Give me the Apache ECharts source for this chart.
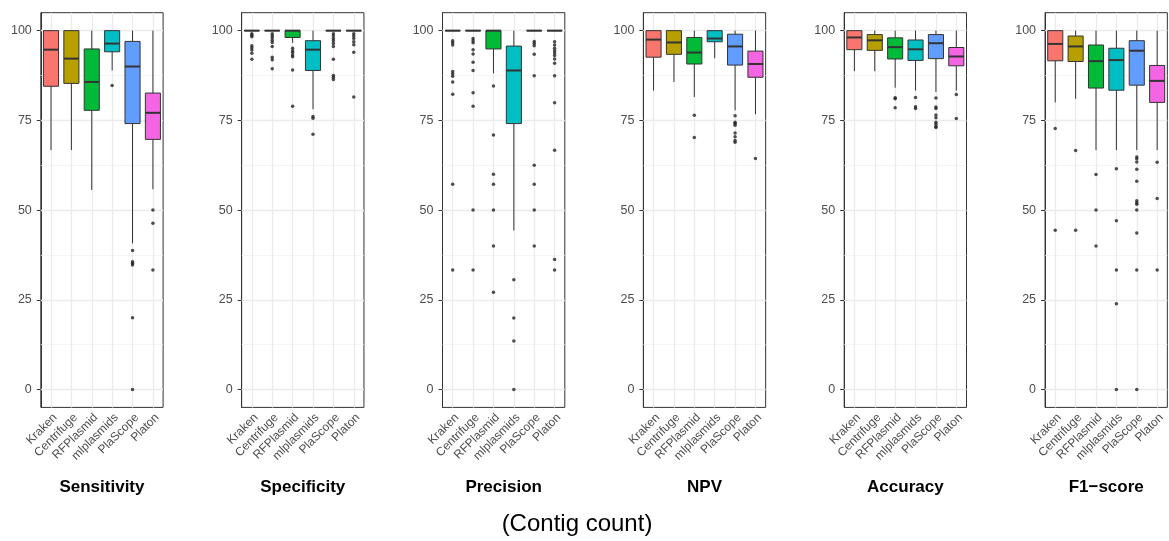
<!DOCTYPE html>
<html>
<head>
<meta charset="utf-8">
<script src="https://cdn.jsdelivr.net/npm/echarts@6/dist/echarts.min.js"></script>
<style>
html,body{margin:0;padding:0;background:#fff;}
#chart{width:1169px;height:541px;}
</style>
</head>
<body>
<div id="chart"></div>
<script>
const categories = ['Kraken', 'Centrifuge', 'RFPlasmid', 'mlplasmids', 'PlaScope', 'Platon'];
const metrics = ['Sensitivity', 'Specificity', 'Precision', 'NPV', 'Accuracy', 'F1\u2212score'];
const yTicks = [0, 25, 50, 75, 100];
const yMinorTicks = [12.5, 37.5, 62.5, 87.5];
const caption = '(Contig count)';

// boxes: [lower whisker, Q1, median, Q3, upper whisker] per category
const sensitivityBoxes = [[66.7, 84.5, 94.7, 100, 100], [66.7, 85.3, 92.2, 100, 100], [55.6, 77.8, 85.7, 94.9, 100], [88.9, 94.1, 96.4, 100, 100], [40.7, 74.1, 90.0, 97.0, 100], [55.8, 69.7, 77.1, 82.6, 100]];
const sensitivityOutliers = [[], [], [], [84.7], [38.7, 35.6, 35.2, 34.7, 20, 0], [50, 46.3, 33.3]];

const specificityBoxes = [[100, 100, 100, 100, 100], [100, 100, 100, 100, 100], [96.6, 98.1, 100, 100, 100], [78.1, 88.9, 94.7, 97.2, 100], [100, 100, 100, 100, 100], [100, 100, 100, 100, 100]];
const specificityOutliers = [[99.1, 98.7, 98.3, 95.8, 95.2, 94.6, 93.7, 92.0], [99.1, 98.6, 98.0, 97.3, 96.7, 95.6, 92.6, 91.9, 89.4], [95.1, 94.4, 93.9, 93.2, 92.7, 89.0, 78.9], [76.1, 75.6, 71.1], [99.1, 98.5, 97.8, 97.2, 96.4, 95.6, 92.0, 87.5, 87.0, 86.4], [99.1, 98.5, 97.8, 96.9, 96.1, 94.0, 81.5]];

const precisionBoxes = [[100, 100, 100, 100, 100], [100, 100, 100, 100, 100], [88.1, 94.9, 100, 100, 100], [44.3, 74.1, 88.9, 95.7, 100], [100, 100, 100, 100, 100], [100, 100, 100, 100, 100]];
const precisionOutliers = [[97.2, 96.6, 96.0, 88.6, 88.0, 87.3, 85.7, 82.3, 57.2, 33.3], [97.8, 97.2, 96.6, 94.7, 93.5, 91.2, 88.9, 82.7, 78.9, 50, 33.3], [84.6, 70.9, 60.0, 57.2, 50, 40, 27.1], [30.6, 19.9, 13.5, 0], [97.0, 96.4, 95.8, 93.4, 87.4, 62.5, 57.2, 50, 40], [96.9, 96.0, 95.1, 94.4, 93.8, 93.1, 92.1, 90.9, 87.4, 79.9, 66.7, 36.2, 33.3]];

const npvBoxes = [[83.3, 92.6, 97.5, 100, 100], [85.7, 93.4, 96.7, 100, 100], [81.5, 90.7, 93.9, 98.1, 100], [92.3, 96.9, 97.8, 100, 100], [77.8, 90.4, 95.6, 99.0, 100], [76.7, 87.0, 90.7, 94.3, 100]];
const npvOutliers = [[], [], [76.4, 70.2], [], [76.3, 74.5, 74.1, 73.6, 71.5, 70.4, 69.4, 68.9], [64.4]];

const accuracyBoxes = [[88.7, 94.7, 98.1, 100, 100], [88.7, 94.5, 97.3, 98.9, 100], [84.1, 92.1, 95.4, 98.0, 100], [83.3, 91.7, 94.8, 97.4, 100], [82.9, 92.2, 96.5, 98.9, 100], [83.3, 90.2, 92.8, 95.3, 100]];
const accuracyOutliers = [[], [], [81.3, 81.0, 78.5], [81.4, 78.8, 78.3], [81.2, 78.7, 78.3, 76.5, 75.7, 74.5, 73.9, 73.3, 73.0], [82.2, 75.5]];

const f1Boxes = [[80.0, 91.6, 96.3, 100, 100], [81.0, 91.4, 95.6, 98.5, 100], [66.7, 84.0, 91.5, 96.0, 100], [66.7, 83.4, 91.8, 95.1, 100], [66.7, 84.8, 94.4, 97.2, 100], [66.7, 80.0, 86.0, 90.3, 100]];
const f1Outliers = [[72.7, 44.4], [66.6, 44.4], [59.9, 50, 40], [61.5, 47.0, 33.3, 23.9, 0], [64.8, 64.3, 63.4, 61.4, 58.0, 52.6, 52.0, 51.6, 50, 43.6, 33.3, 0], [63.3, 53.2, 33.3]];

const panelBoxes = [sensitivityBoxes, specificityBoxes, precisionBoxes, npvBoxes, accuracyBoxes, f1Boxes];
const panelOutliers = [sensitivityOutliers, specificityOutliers, precisionOutliers, npvOutliers, accuracyOutliers, f1Outliers];

const colors = ['#F8766D', '#B79F00', '#00BA38', '#00BFC4', '#619CFF', '#F564E3'];
const FONT = '"Liberation Sans", Arial, Helvetica, sans-serif';

const chart = echarts.init(document.getElementById('chart'), null, {renderer: 'canvas'});

const PANEL_LEFT0 = 40.8, PANEL_STEP = 200.85, PANEL_W = 122.3, PANEL_TOP = 12.7, PANEL_H = 394.7;

function renderBox(params, api) {
  const idx = api.value(0);
  const lo = api.coord([idx, api.value(1)]);
  const q1 = api.coord([idx, api.value(2)]);
  const md = api.coord([idx, api.value(3)]);
  const q3 = api.coord([idx, api.value(4)]);
  const hi = api.coord([idx, api.value(5)]);
  const bw = api.size([1, 0])[0] * 0.74;
  const x = md[0];
  return {
    type: 'group',
    children: [
      {type: 'line', shape: {x1: x, y1: hi[1], x2: x, y2: q3[1]}, style: {stroke: '#333', lineWidth: 1}},
      {type: 'line', shape: {x1: x, y1: q1[1], x2: x, y2: lo[1]}, style: {stroke: '#333', lineWidth: 1}},
      {type: 'rect', shape: {x: x - bw / 2, y: q3[1], width: bw, height: q1[1] - q3[1]}, style: {fill: colors[idx], stroke: '#333', lineWidth: 1}},
      {type: 'line', shape: {x1: x - bw / 2, y1: md[1], x2: x + bw / 2, y2: md[1]}, style: {stroke: '#333', lineWidth: 2}}
    ]
  };
}

const grids = [], xAxes = [], yAxes = [], series = [], titles = [];
for (let i = 0; i < metrics.length; i++) {
  const left = PANEL_LEFT0 + i * PANEL_STEP;
  grids.push({left: left, top: PANEL_TOP, width: PANEL_W, height: PANEL_H, show: true,
    borderColor: '#333', borderWidth: 1, backgroundColor: 'transparent', containLabel: false, outerBoundsMode: 'none'});
  xAxes.push({type: 'category', gridIndex: i, data: categories,
    axisLine: {show: true, lineStyle: {color: '#333', width: 1}},
    axisTick: {show: true, alignWithLabel: true, length: 4, lineStyle: {color: '#333', width: 1}},
    axisLabel: {rotate: 45, interval: 0, color: '#4D4D4D', fontSize: 12, margin: 4, fontFamily: FONT, align: 'right', verticalAlign: 'top'},
    splitLine: {show: false}});
  yAxes.push({type: 'value', gridIndex: i, min: -5, max: 105,
    axisLine: {show: true, lineStyle: {color: '#333', width: 1}},
    axisTick: {show: true, length: 4, lineStyle: {color: '#333', width: 1}, customValues: yTicks},
    axisLabel: {color: '#4D4D4D', fontSize: 12.5, margin: 9, fontFamily: FONT, customValues: yTicks},
    splitLine: {show: false}, minorSplitLine: {show: false}});

  const boxData = panelBoxes[i].map((b, k) => [k, b[0], b[1], b[2], b[3], b[4]]);
  series.push({type: 'custom', xAxisIndex: i, yAxisIndex: i, renderItem: renderBox,
    encode: {x: 0, y: [1, 2, 3, 4, 5]}, data: boxData, z: 3, silent: true});

  const outData = [];
  panelOutliers[i].forEach((arr, k) => arr.forEach(v => outData.push([categories[k], v])));
  const gridLines = [];
  yTicks.forEach(v => gridLines.push({yAxis: v, lineStyle: {color: '#EBEBEB', width: 1.3, type: 'solid'}}));
  yMinorTicks.forEach(v => gridLines.push({yAxis: v, lineStyle: {color: '#F0F0F0', width: 0.7, type: 'solid'}}));
  categories.forEach(c => gridLines.push({xAxis: c, lineStyle: {color: '#EBEBEB', width: 1.3, type: 'solid'}}));
  series.push({type: 'scatter', xAxisIndex: i, yAxisIndex: i, data: outData, symbol: 'circle', symbolSize: 3.5,
    itemStyle: {color: '#222'}, z: 4, silent: true,
    markLine: {silent: true, z: 1, symbol: ['none', 'none'], label: {show: false}, emphasis: {disabled: true}, data: gridLines}});

  titles.push({text: metrics[i], left: left + PANEL_W / 2, top: 479, textAlign: 'center', padding: 0,
    textStyle: {fontSize: 17, fontWeight: 'bold', color: '#000', fontFamily: FONT}});
}
titles.push({text: caption, left: 577, top: 512, textAlign: 'center', padding: 0,
  textStyle: {fontSize: 24, fontWeight: 'normal', color: '#000', fontFamily: FONT}});

chart.setOption({
  animation: false,
  backgroundColor: '#fff',
  title: titles,
  grid: grids,
  xAxis: xAxes,
  yAxis: yAxes,
  series: series
});
</script>
</body>
</html>
